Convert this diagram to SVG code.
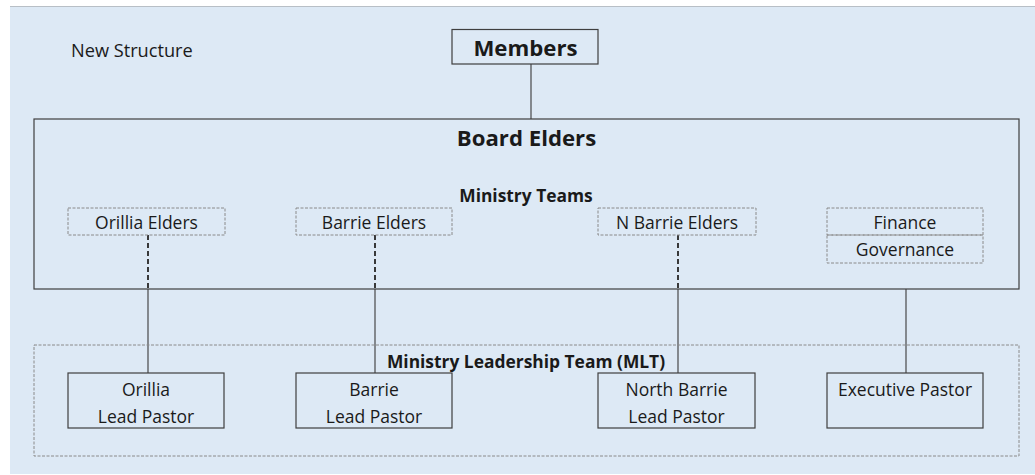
<svg xmlns="http://www.w3.org/2000/svg" width="1035" height="475" viewBox="0 0 1035 475">
<style>
text{font-family:"Open Sans","Liberation Sans",sans-serif;fill:#1a1a1a;text-anchor:middle}
.r{font-size:17.5px}
.b{font-weight:bold}
.h1{font-size:22.2px}
.h2{font-size:17.4px}
.solid{fill:none;stroke:#3f3f3f;stroke-width:1.2}
.dbox{fill:none;stroke:#8a8a8a;stroke-width:1;stroke-dasharray:3 1.5}
.conn{fill:none;stroke:#3a3a3a;stroke-width:1.1}
.dash{fill:none;stroke:#262626;stroke-width:1.8;stroke-dasharray:5 3}
</style>
<rect x="0" y="0" width="1035" height="475" fill="#ffffff"/>
<rect x="10" y="6" width="1025" height="468" fill="#dde9f5"/>
<line x1="10" y1="6.5" x2="1035" y2="6.5" stroke="#b8bfc6" stroke-width="1"/>
<text x="71" y="57" style="text-anchor:start;font-size:18.2px">New Structure</text>
<g id="connectors">
<line class="conn" x1="531" y1="64" x2="531" y2="119"/>
<line class="dash" x1="148" y1="235" x2="148" y2="289"/>
<line class="conn" x1="148" y1="289" x2="148" y2="373"/>
<line class="dash" x1="375" y1="235" x2="375" y2="289"/>
<line class="conn" x1="375" y1="289" x2="375" y2="373"/>
<line class="dash" x1="678" y1="235" x2="678" y2="289"/>
<line class="conn" x1="678" y1="289" x2="678" y2="373"/>
<line class="conn" x1="906" y1="289" x2="906" y2="373"/>
</g>
<g id="members">
<rect class="solid" x="452" y="29.5" width="146" height="34.5"/>
<text class="b h1" x="525.5" y="56">Members</text>
</g>
<g id="board-elders">
<rect class="solid" x="34" y="119" width="985" height="170"/>
<text class="b h1" x="526.5" y="146">Board Elders</text>
<text class="b h2" x="526" y="202">Ministry Teams</text>
</g>
<g id="orillia-elders">
<rect class="dbox" x="68" y="208" width="157" height="27"/>
<text class="r" x="146.5" y="229">Orillia Elders</text>
</g>
<g id="barrie-elders">
<rect class="dbox" x="296" y="208" width="156" height="27"/>
<text class="r" x="374" y="229">Barrie Elders</text>
</g>
<g id="n-barrie-elders">
<rect class="dbox" x="598" y="208" width="158" height="27"/>
<text class="r" x="677" y="229">N Barrie Elders</text>
</g>
<g id="finance-governance">
<rect class="dbox" x="827" y="208" width="156" height="27"/>
<rect class="dbox" x="827" y="235" width="156" height="28"/>
<text class="r" x="905" y="229">Finance</text>
<text class="r" x="905" y="256">Governance</text>
</g>
<g id="mlt">
<rect class="dbox" x="34" y="345" width="985" height="111"/>
<text class="b h2" x="526" y="368">Ministry Leadership Team (MLT)</text>
</g>
<g id="orillia-lead-pastor">
<rect class="solid" x="68" y="373" width="156" height="55"/>
<text class="r" x="146" y="396">Orillia</text>
<text class="r" x="146" y="423">Lead Pastor</text>
</g>
<g id="barrie-lead-pastor">
<rect class="solid" x="296" y="373" width="156" height="55"/>
<text class="r" x="374" y="396">Barrie</text>
<text class="r" x="374" y="423">Lead Pastor</text>
</g>
<g id="north-barrie-lead-pastor">
<rect class="solid" x="598" y="373" width="157" height="55"/>
<text class="r" x="676.5" y="396">North Barrie</text>
<text class="r" x="676.5" y="423">Lead Pastor</text>
</g>
<g id="executive-pastor">
<rect class="solid" x="827" y="373" width="156" height="55"/>
<text class="r" x="905" y="396">Executive Pastor</text>
</g>
</svg>
